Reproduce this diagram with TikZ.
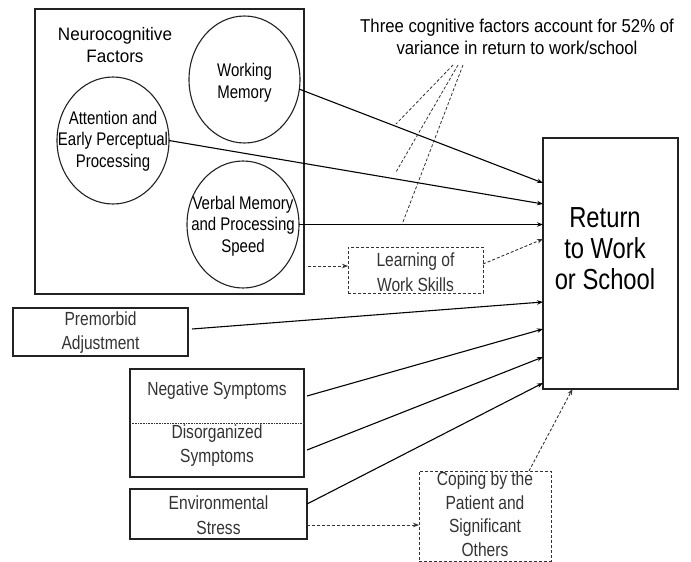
\documentclass[tikz,border=0pt]{standalone}
\usepackage{fontspec}
\setmainfont[FakeStretch=0.82]{Liberation Sans}
\newfontfamily\wideA[FakeStretch=0.95]{Liberation Sans}
\newfontfamily\wideB[FakeStretch=0.90]{Liberation Sans}
\usetikzlibrary{shapes.geometric,arrows.meta,calc}
\definecolor{txtgray}{HTML}{333333}
\definecolor{linegray}{HTML}{222222}
\tikzset{
  sbox/.style={draw=linegray, line width=1.2pt, inner sep=0pt, outer sep=0pt},
  dbox/.style={draw=txtgray, line width=0.9pt, dash pattern=on 3pt off 2pt, inner sep=0pt, outer sep=0pt},
  circ/.style={ellipse, draw=linegray, line width=1.1pt, inner sep=0pt, outer sep=0pt},
  ctext/.style={align=center, font=\fontsize{18.3}{21.7}\selectfont, text=black},
  btext/.style={align=center, font=\fontsize{19}{24.5}\selectfont, text=txtgray},
  arr/.style={draw=black, line width=1.1pt, -{Stealth[length=6pt,width=4.5pt]}},
  darr/.style={draw=txtgray, line width=0.9pt, dash pattern=on 3pt off 2pt, -{Stealth[length=6pt,width=4.5pt]}},
  dline/.style={draw=txtgray, line width=0.8pt, dash pattern=on 3pt off 2pt}
}
\begin{document}
\begin{tikzpicture}[x=1pt,y=-1pt]
\useasboundingbox (0,0) rectangle (691,562);
% Neurocognitive factors box
\node[sbox, minimum width=269pt, minimum height=285pt] (nf) at (169.5,151.5) {};
\node[align=center, font=\wideA\fontsize{18}{22}\selectfont] (nft) at (115,45.5) {Neurocognitive\\Factors};
\node[circ, minimum width=111pt, minimum height=127pt] (wm) at (244.5,79.5) {};
\node[ctext] (wmt) at (244.5,83) {Working\\Memory};
\node[circ, minimum width=112pt, minimum height=127pt] (att) at (113,140.5) {};
\node[ctext] (attt) at (113,141) {Attention and\\Early Perceptual\\Processing};
\node[circ, minimum width=112pt, minimum height=127pt] (vm) at (243,224.5) {};
\node[ctext] (vmt) at (243,226) {Verbal Memory\\and Processing\\Speed};
% Title
\node[align=center, font=\wideB\fontsize{18.6}{22}\selectfont] (title) at (517,37.3) {Three cognitive factors account for 52\% of\\variance in return to work/school};
% Return box
\node[sbox, minimum width=135pt, minimum height=251pt] (ret) at (610.5,263.5) {};
\node[align=center, font=\fontsize{29}{31}\selectfont] (rett) at (605,249) {Return\\to Work\\or School};
% Learning
\node[dbox, minimum width=135pt, minimum height=46pt] (lw) at (415.5,270) {};
\node[btext] (lwt) at (415.5,272) {Learning of\\Work Skills};
% Premorbid
\node[sbox, minimum width=175pt, minimum height=48pt] (pm) at (100.5,332) {};
\node[btext] (pmt) at (100.5,332.5) {Premorbid\\Adjustment};
% Symptoms
\node[sbox, minimum width=174pt, minimum height=108pt] (sym) at (217,423) {};
\draw[draw=txtgray, line width=0.6pt, dash pattern=on 1pt off 0.6pt] (sym.west) -- (sym.east);
\node[btext] (neg) at (217,391) {Negative Symptoms};
\node[btext] (dis) at (217,445.5) {Disorganized\\Symptoms};
% Environmental
\node[sbox, minimum width=177pt, minimum height=50pt] (env) at (218.5,514) {};
\node[btext] (envt) at (218.5,515) {Environmental\\Stress};
% Coping
\node[dbox, minimum width=132pt, minimum height=90pt] (cop) at (485,516) {};
\node[btext, font=\fontsize{19}{23.5}\selectfont] (copt) at (485,514) {Coping by the\\Patient and\\Significant\\Others};
% endpoints on Return box
\coordinate (r1) at ([yshift=-45pt]ret.north west);
\coordinate (r2) at ([yshift=-66pt]ret.north west);
\coordinate (r4) at ([yshift=-101pt]ret.north west);
\coordinate (r5) at ([yshift=-164pt]ret.north west);
\coordinate (r6) at ([yshift=-191pt]ret.north west);
\coordinate (r7) at ([yshift=-219pt]ret.north west);
\coordinate (r8) at ([yshift=-245pt]ret.north west);
% solid arrows
\draw[arr] (wm.-10) -- (r1);
\draw[arr] (att.east) -- (r2);
\draw[arr] (vm.east) -- (vm.east -| ret.west);
\draw[arr] ([xshift=4pt,yshift=3pt]pm.east) -- (r5);
\draw[arr] ([xshift=3pt,yshift=27pt]sym.east) -- (r6);
\draw[arr] ([xshift=3pt,yshift=-27pt]sym.east) -- (r7);
\draw[arr] ([yshift=10pt]env.east) -- (r8);
% dashed arrows
\draw[darr] ([xshift=4pt,yshift=4pt]nf.east |- lw.west) -- ([yshift=4pt]lw.west);
\draw[darr] ([yshift=6pt]lw.east) -- (r4);
\draw[darr] ([yshift=-11pt]env.east) -- ([yshift=-11pt]env.east -| cop.west);
\draw[darr] ([xshift=44pt]cop.north) -- ([xshift=-38pt]ret.south);
% title pointer lines
\coordinate (t1) at (453,65);
\coordinate (t2) at (458,65);
\coordinate (t3) at (463,65);
\coordinate (e1) at (396,124);
\coordinate (e2) at (396,172);
\coordinate (e3) at (402,224.5);
\draw[dline] (t1) -- (e1);
\draw[dline] (t2) -- (e2);
\draw[dline] (t3) -- (e3);
\end{tikzpicture}
\end{document}
